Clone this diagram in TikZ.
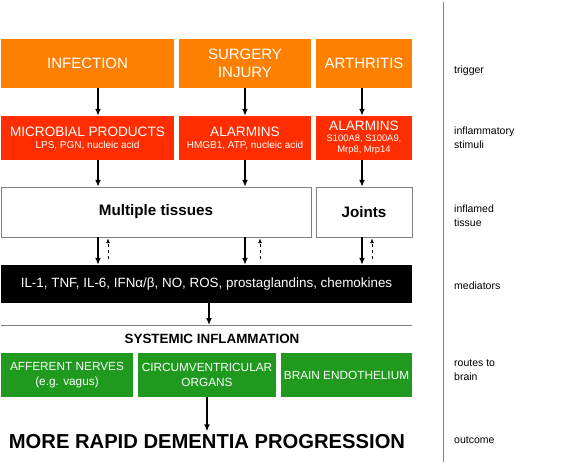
\documentclass[tikz,border=0pt]{standalone}
\usepackage{fontspec}
\setmainfont{Liberation Sans}
\usetikzlibrary{arrows.meta,calc}
\definecolor{TrigOrange}{HTML}{FF8000}
\definecolor{StimRed}{HTML}{FF2D00}
\definecolor{RouteGreen}{HTML}{1F9A1F}
\definecolor{EdgeGray}{HTML}{808080}
\tikzset{
    block/.style = {rectangle, inner sep=0pt, align=center, text=white},
    trig/.style = {block, fill=TrigOrange, minimum height=49pt, font=\fontsize{15}{18.5}\selectfont},
    stim/.style = {block, fill=StimRed, minimum height=44pt},
    tissue/.style = {block, draw=EdgeGray, fill=white, text=black, minimum height=50pt,
        font=\bfseries\fontsize{15.2}{18}\selectfont},
    route/.style = {block, fill=RouteGreen, minimum height=44pt, font=\fontsize{11.8}{15.5}\selectfont},
    level/.style = {anchor=west, align=left, inner sep=0pt, font=\fontsize{10.5}{14}\selectfont},
    arrow/.style = {draw, line width=1.6pt, -{Latex[length=7pt,width=6pt]}},
    back/.style = {draw, line width=0.8pt, dashed, -{Latex[length=5pt,width=4pt]}}
}
\newcommand{\stimhead}[1]{{\fontsize{13.6}{16}\selectfont #1}}
\newcommand{\stimsub}[1]{{\fontsize{10}{12}\selectfont #1}}
\newcommand{\stimtiny}[1]{{\fontsize{9.4}{10}\selectfont #1}}
\begin{document}
\begin{tikzpicture}[x=1pt,y=-1pt]
  \useasboundingbox (0,0) rectangle (567,464);
  % triggers
  \node[trig, minimum width=173pt] (infection) at (87.5,63.5) {INFECTION};
  \node[trig, minimum width=132pt] (surgery) at (245,63.5) {SURGERY\\INJURY};
  \node[trig, minimum width=96pt] (arthritis) at (364,63.5) {ARTHRITIS};
  % stimuli
  \node[stim, minimum width=173pt] (microbial) at (87.5,138)
    {\stimhead{MICROBIAL PRODUCTS}\\[0pt]\stimsub{LPS, PGN, nucleic acid}};
  \node[stim, minimum width=132pt] (alarmins) at (245,138)
    {\stimhead{ALARMINS}\\[0pt]\stimsub{HMGB1, ATP, nucleic acid}};
  \node[stim, minimum width=96pt] (joalarm) at (364,138)
    {\stimhead{ALARMINS}\\[-1pt]\stimtiny{S100A8, S100A9,}\\[-1pt]\stimtiny{Mrp8, Mrp14}};
  % tissues
  \node[tissue, minimum width=310pt] (multi) at (156,212) {Multiple tissues};
  \node[tissue, minimum width=96pt] (joints) at (364,212) {Joints};
  % mediators
  \node[block, fill=black, minimum width=411pt, minimum height=38pt,
    font=\fontsize{13.4}{15}\selectfont] (mediators) at (206.5,284)
    {IL-1, TNF, IL-6, IFNα/β, NO, ROS, prostaglandins, chemokines};
  \draw[EdgeGray, line width=0.8pt] (1,325) -- (412,325);
  \coordinate (sysline) at (209,325);
  \node[font=\bfseries\fontsize{13.4}{15}\selectfont] (systemic) at (212,339) {SYSTEMIC INFLAMMATION};
  % routes
  \node[route, minimum width=132pt] (afferent) at (67,375) {AFFERENT NERVES\\(e.g. vagus)};
  \node[route, minimum width=138pt] (circum) at (207,375) {CIRCUMVENTRICULAR\\ORGANS};
  \node[route, minimum width=131pt] (endo) at (346.5,375) {BRAIN ENDOTHELIUM};
  \node[font=\bfseries\fontsize{20.2}{24}\selectfont] (outcome) at (207,442) {MORE RAPID DEMENTIA PROGRESSION};
  % arrow columns
  \coordinate (c1) at (98,0);
  \coordinate (c2) at (245,0);
  \coordinate (c3) at (362,0);
  \coordinate (d1) at (108,0);
  \coordinate (d2) at (260,0);
  \coordinate (d3) at (372,0);
  \draw[arrow] (infection.south -| c1) -- (microbial.north -| c1);
  \draw[arrow] (surgery.south -| c2) -- (alarmins.north -| c2);
  \draw[arrow] (arthritis.south -| c3) -- (joalarm.north -| c3);
  \draw[arrow] (microbial.south -| c1) -- (multi.north -| c1);
  \draw[arrow] (alarmins.south -| c2) -- (multi.north -| c2);
  \draw[arrow] (joalarm.south -| c3) -- (joints.north -| c3);
  \draw[arrow] (multi.south -| c1) -- (mediators.north -| c1);
  \draw[arrow] (multi.south -| c2) -- (mediators.north -| c2);
  \draw[arrow] (joints.south -| c3) -- (mediators.north -| c3);
  \draw[back, shorten <=6pt, shorten >=1pt] (mediators.north -| d1) -- (multi.south -| d1);
  \draw[back, shorten <=6pt, shorten >=1pt] (mediators.north -| d2) -- (multi.south -| d2);
  \draw[back, shorten <=6pt, shorten >=1pt] (mediators.north -| d3) -- (joints.south -| d3);
  \draw[arrow] (mediators.south -| sysline) -- (sysline);
  \draw[arrow] (circum.south) -- (outcome.north);
  % levels
  \draw[EdgeGray, line width=0.8pt] (443,2) -- (443,462);
  \node[level] (ltrigger) at (454,71) {trigger};
  \node[level] (lstimuli) at (454,138) {inflammatory\\stimuli};
  \node[level] (ltissue) at (454,216) {inflamed\\tissue};
  \node[level] (lmediators) at (454,286) {mediators};
  \node[level] (lroutes) at (454,370) {routes to\\brain};
  \node[level] (loutcome) at (454,440) {outcome};
\end{tikzpicture}
\end{document}
